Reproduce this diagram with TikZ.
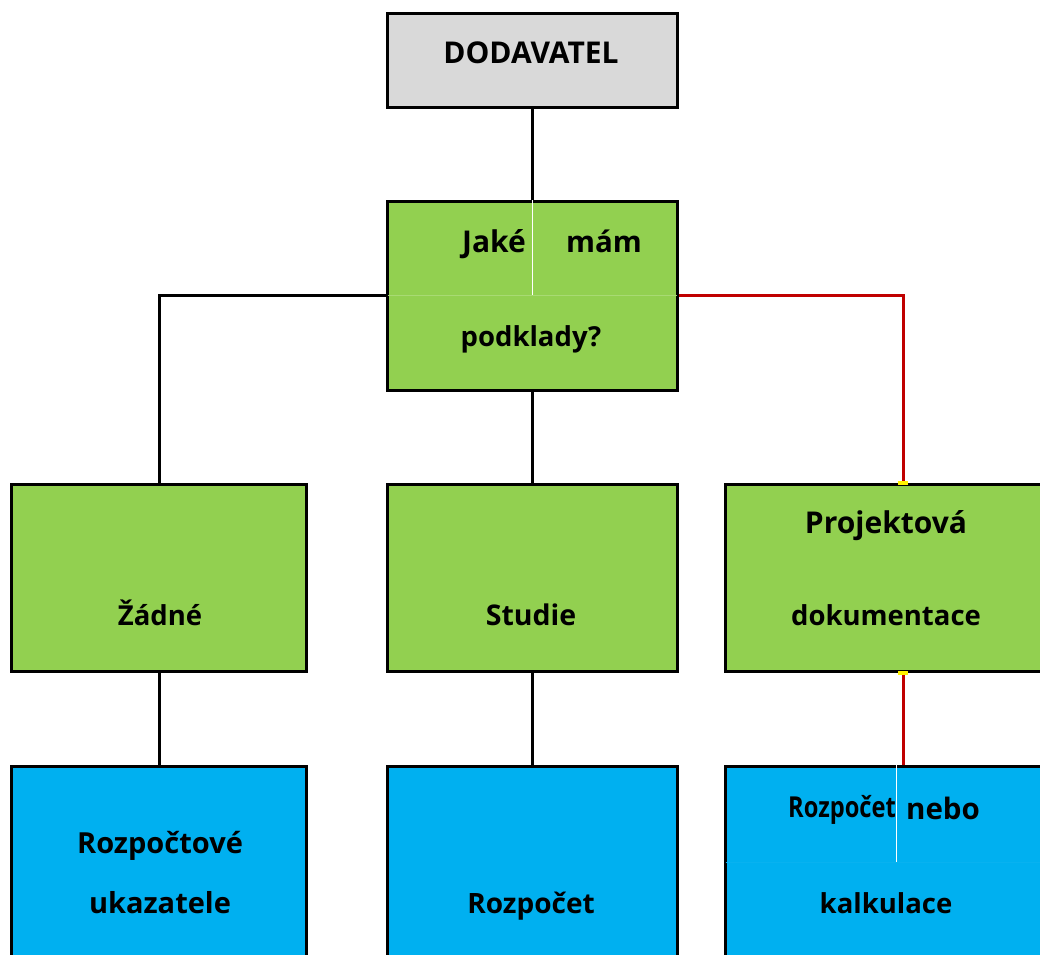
\documentclass[tikz,border=0pt]{standalone}
\usepackage{fontspec}
\setmainfont{Open Sans}
\definecolor{boxgray}{HTML}{D9D9D9}
\definecolor{boxgreen}{HTML}{92D050}
\definecolor{boxblue}{HTML}{00B0F0}
\definecolor{linkred}{HTML}{C00000}
\begin{document}
\begin{tikzpicture}[x=1pt,y=-1pt,
  box/.style={draw=black, line width=3pt, minimum width=290pt, minimum height=187pt, inner sep=0pt},
  txt/.style={anchor=base, inner sep=0pt, font=\fontsize{#1}{32}\selectfont\bfseries},
  txt/.default=27.5,
  link/.style={line width=3pt},
  joint/.style={fill=yellow, minimum width=10pt, minimum height=4pt, inner sep=0pt},
  cellline/.style={line width=1pt}]
\clip (0,0) rectangle (1040,954);
\fill[white] (0,0) rectangle (1040,954);
\node[box, fill=boxgray, minimum height=94pt] (dod) at (532,60) {};
\node[box, fill=boxgreen, minimum height=189pt] (q) at (532,295.5) {};
\node[box, fill=boxgreen, minimum width=295pt] (zad) at (159,578) {};
\node[box, fill=boxgreen] (stu) at (532,578) {};
\node[box, fill=boxgreen, minimum width=356pt] (pro) at (903,578) {};
\node[box, fill=boxblue, minimum width=295pt, minimum height=192pt] (ruk) at (159,862) {};
\node[box, fill=boxblue, minimum height=192pt] (roz) at (532,862) {};
\node[box, fill=boxblue, minimum width=356pt, minimum height=192pt] (kal) at (903,862) {};
\draw[cellline, white] (q.north) -- (q.center);
\draw[cellline, boxgreen!80!white] ([xshift=2pt]q.west) -- ([xshift=-2pt]q.east);
\draw[cellline, white] ([xshift=-7pt]kal.north) -- ([xshift=-7pt]kal.center);
\draw[cellline, boxblue!97!white, line width=0.7pt] ([xshift=2pt]kal.west) -- ([xshift=-2pt]kal.east);
\draw[link] (dod) -- (q);
\draw[link] (q.west) -| (zad.north);
\draw[link, linkred] (q.east) -| (pro.north);
\draw[link] (q) -- (stu);
\draw[link] (zad) -- (ruk);
\draw[link] (stu) -- (roz);
\draw[link, linkred] (pro) -- (kal);
\node[joint] (j1) at (pro.north) {};
\node[joint] (j2) at (pro.south) {};
\node[txt=30] (tdod) at (531,63) {DODAVATEL};
\node[txt=30] (tjake) at (494,252) {Jaké};
\node[txt=29.5] (tmam) at (604,252) {mám};
\node[txt] (tpod) at (531,346) {podklady?};
\node[txt] (tzad) at (160,625) {Žádné};
\node[txt=28.5] (tstu) at (531,625) {Studie};
\node[txt=30] (tpro) at (886,533) {Projektová};
\node[txt] (tdok) at (886,625) {dokumentace};
\node[txt=29] (truk) at (160,853) {Rozpočtové};
\node[txt=29] (tuka) at (160,913) {ukazatele};
\node[txt=28] (troz) at (531,913) {Rozpočet};
\node[txt] (trozc) at (842,817) {\scalebox{0.86}[1.05]{Rozpočet}};
\node[txt=29.5] (tnebo) at (943,819) {nebo};
\node[txt] (tkal) at (886,913) {kalkulace};
\end{tikzpicture}
\end{document}
